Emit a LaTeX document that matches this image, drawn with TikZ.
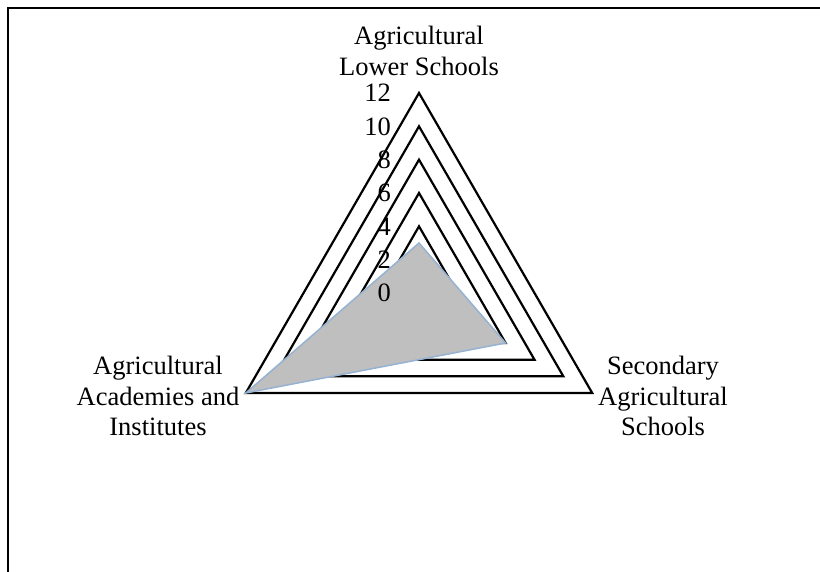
\documentclass[tikz,border=0pt]{standalone}
\usepackage{fontspec}
\setmainfont{Liberation Serif}
\usetikzlibrary{calc}
\definecolor{dataedge}{RGB}{150,178,210}
\definecolor{datafill}{RGB}{191,191,191}
\begin{document}
\begin{tikzpicture}[x=1pt,y=-1pt,
  gridtri/.style={draw=black,line width=2.2pt,line join=miter},
  datapoly/.style={fill=datafill,draw=dataedge,line width=1.5pt,line join=miter},
  frameline/.style={draw=black,line width=2.2pt},
  lbl/.style={font=\fontsize{26.5}{30.5}\selectfont,align=center,inner sep=0pt},
  tick/.style={font=\fontsize{26.5}{30.5}\selectfont,anchor=east,inner sep=0pt}]
\useasboundingbox (0,0) rectangle (820,572);
\coordinate (c) at (419,293);
% frame
\coordinate (f1) at (8,572);
\coordinate (f2) at (8,8);
\coordinate (f3) at (820,8);
\draw[frameline] (f1) -- (f2) -- (f3);
% grid triangles
\foreach \r in {2,4,...,12}{
  \coordinate (t\r) at ($(c)+(0,-16.667*\r)$);
  \coordinate (l\r) at ($(c)+(-14.434*\r,8.333*\r)$);
  \coordinate (r\r) at ($(c)+(14.434*\r,8.333*\r)$);
  \draw[gridtri] (t\r) -- (l\r) -- (r\r) -- cycle;
}
% data
\coordinate (d1) at ($(c)+(0,-16.667*3)$);
\coordinate (d2) at ($(c)+(14.434*6,8.333*6)$);
\coordinate (d3) at ($(c)+(-14.434*12,8.333*12)$);
\draw[datapoly] (d1) -- (d2) -- (d3) -- cycle;
% tick labels
\foreach \r in {0,2,...,12}{
  \node[tick] (k\r) at (391,293-16.667*\r) {\r};
}
% axis labels
\node[lbl] (la) at (419,51) {Agricultural\\Lower Schools};
\node[lbl] (lb) at (663,396) {Secondary\\Agricultural\\Schools};
\node[lbl] (lc) at (158,396) {Agricultural\\Academies and\\Institutes};
\end{tikzpicture}
\end{document}
